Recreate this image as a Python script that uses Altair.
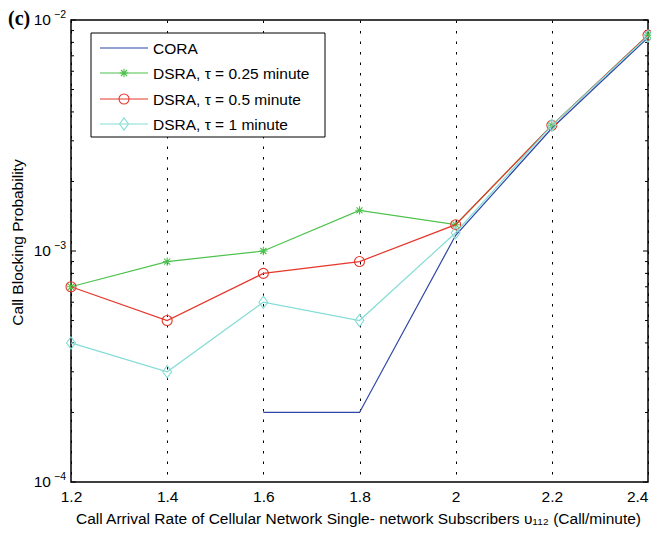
import altair as alt
import pandas as pd

# ---- data ----
x_vals = [1.2, 1.4, 1.6, 1.8, 2.0, 2.2, 2.4]
cora_x = [1.6, 1.8, 2.0, 2.2, 2.4]
cora_y = [2.0e-4, 2.0e-4, 1.17e-3, 3.4e-3, 8.4e-3]
dsra_025 = [7.0e-4, 9.0e-4, 1.0e-3, 1.5e-3, 1.3e-3, 3.5e-3, 8.6e-3]
dsra_05 = [7.0e-4, 5.0e-4, 8.0e-4, 9.0e-4, 1.3e-3, 3.5e-3, 8.6e-3]
dsra_1 = [4.0e-4, 3.0e-4, 6.0e-4, 5.0e-4, 1.2e-3, 3.5e-3, 8.5e-3]

series_names = ["CORA", "DSRA, τ = 0.25 minute", "DSRA, τ = 0.5 minute", "DSRA, τ = 1 minute"]
colors = ["#2E45A8", "#4CC24C", "#E5372B", "#84DCD6"]

x_ticks = [1.2, 1.4, 1.6, 1.8, 2.0, 2.2, 2.4]
y_major = [1e-4, 1e-3, 1e-2]
y_exponents = ["\u22124", "\u22123", "\u22122"]
y_minor = [k * 10.0 ** e for e in (-4, -3) for k in range(2, 10)]

x_title = "Call Arrival Rate of Cellular Network Single- network Subscribers \u03c5\u2081\u2081\u2082 (Call/minute)"
y_title = "Call Blocking Probability"
panel_label = "(c)"

# ---- layout ----
W, H = 577, 462
FONT = "Liberation Sans"
FS = 15.5

xscale = alt.Scale(domain=[1.2, 2.4], nice=False, zero=False)
yscale = alt.Scale(type="log", domain=[1e-4, 1e-2], nice=False)

ASTERISK = "M-1,0L1,0M0,-1L0,1M-0.72,-0.72L0.72,0.72M-0.72,0.72L0.72,-0.72"
DIAMOND = "M0,-1L0.72,0L0,1L-0.72,0Z"
shapes = [None, ASTERISK, "circle", DIAMOND]
sizes = [0, 70, 100, 150]

frames = [
    pd.DataFrame({"x": cora_x, "y": cora_y}),
    pd.DataFrame({"x": x_vals, "y": dsra_025}),
    pd.DataFrame({"x": x_vals, "y": dsra_05}),
    pd.DataFrame({"x": x_vals, "y": dsra_1}),
]

X = lambda: alt.X("x:Q", scale=xscale)
Y = lambda: alt.Y("y:Q", scale=yscale)

layers = []

# axes carrier (grid etc.)
axis_df = pd.DataFrame({"x": x_ticks, "y": [1e-3] * len(x_ticks)})
axes = alt.Chart(axis_df).mark_point(opacity=0).encode(
    x=alt.X("x:Q", scale=xscale, axis=alt.Axis(
        values=x_ticks, format="~g", grid=True, gridDash=[2.5, 8], gridColor="black",
        gridOpacity=1, gridWidth=1, ticks=False, domain=False,
        labelFont=FONT, labelFontSize=FS, labelColor="black", labelPadding=7,
        labelAlign={"condition": {"test": "datum.value >= 2.39", "value": "right"},
                    "value": "center"},
        title=x_title, titleFont=FONT, titleFontSize=FS, titleFontWeight="normal",
        titleColor="black", titleX=287, titleY=41, titleAlign="center",
        titleBaseline="alphabetic")),
    y=alt.Y("y:Q", scale=yscale, axis=alt.Axis(
        values=y_major, labels=False, ticks=False, domain=False, grid=False,
        title=y_title, titleFont=FONT, titleFontSize=FS, titleFontWeight="normal",
        titleColor="black", titleX=-54, titleY=222, titleAngle=270,
        titleAlign="center", titleBaseline="middle")),
)
layers.append(axes)

# inward ticks on left and right
major_df = pd.DataFrame({"y": y_major})
minor_df = pd.DataFrame({"y": y_minor})
for df, ln in ((major_df, 5), (minor_df, 3)):
    for x0, x1 in ((0, ln), (W, W - ln)):
        layers.append(alt.Chart(df).mark_rule(color="black", strokeWidth=1).encode(
            y=Y(), x=alt.value(x0), x2=alt.value(x1)))

# y tick labels 10^e
lab_df = pd.DataFrame({"y": y_major, "base": ["10"] * 3, "exp": y_exponents})
layers.append(alt.Chart(lab_df).mark_text(
    font=FONT, fontSize=FS, align="right", baseline="middle", color="black").encode(
    y=Y(), x=alt.value(-20), text="base:N"))
layers.append(alt.Chart(lab_df).mark_text(
    font=FONT, fontSize=10.5, align="right", baseline="middle", color="black", dy=-5).encode(
    y=Y(), x=alt.value(-5), text="exp:N"))

# series
for i, df in enumerate(frames):
    layers.append(alt.Chart(df).mark_line(color=colors[i], strokeWidth=1.2).encode(
        x=X(), y=Y()))
    if shapes[i] is not None:
        layers.append(alt.Chart(df).mark_point(
            shape=shapes[i], size=sizes[i], filled=False, color=colors[i],
            strokeWidth=1.1, opacity=1).encode(x=X(), y=Y()))

# legend (decoration)
one = pd.DataFrame({"k": [0]})
layers.append(alt.Chart(one).mark_rect(fill="white", stroke="black", strokeWidth=1).encode(
    x=alt.value(20), x2=alt.value(254), y=alt.value(13), y2=alt.value(117)))
leg_y = [28, 53, 79, 104]
for i, name in enumerate(series_names):
    layers.append(alt.Chart(one).mark_rule(color=colors[i], strokeWidth=1.2).encode(
        x=alt.value(29), x2=alt.value(77), y=alt.value(leg_y[i])))
    if shapes[i] is not None:
        layers.append(alt.Chart(one).mark_point(
            shape=shapes[i], size=sizes[i], filled=False, color=colors[i],
            strokeWidth=1.1, opacity=1).encode(x=alt.value(53), y=alt.value(leg_y[i])))
    layers.append(alt.Chart(pd.DataFrame({"t": [name]})).mark_text(
        font=FONT, fontSize=FS, align="left", baseline="middle", color="black").encode(
        x=alt.value(82), y=alt.value(leg_y[i] + 1), text="t:N"))

# panel label
layers.append(alt.Chart(pd.DataFrame({"t": [panel_label]})).mark_text(
    font="Liberation Serif", fontWeight="bold", fontSize=20, align="left",
    baseline="alphabetic", color="black").encode(
    x=alt.value(-63), y=alt.value(5), text="t:N"))

chart = alt.layer(*layers).properties(
    width=W, height=H,
    padding={"left": 63, "top": 12, "right": 3, "bottom": 45},
    autosize=alt.AutoSizeParams(type="none"),
).configure_view(stroke="black", strokeWidth=1.5)

chart.save("out.html", embed_options={"renderer": "svg", "actions": False})
